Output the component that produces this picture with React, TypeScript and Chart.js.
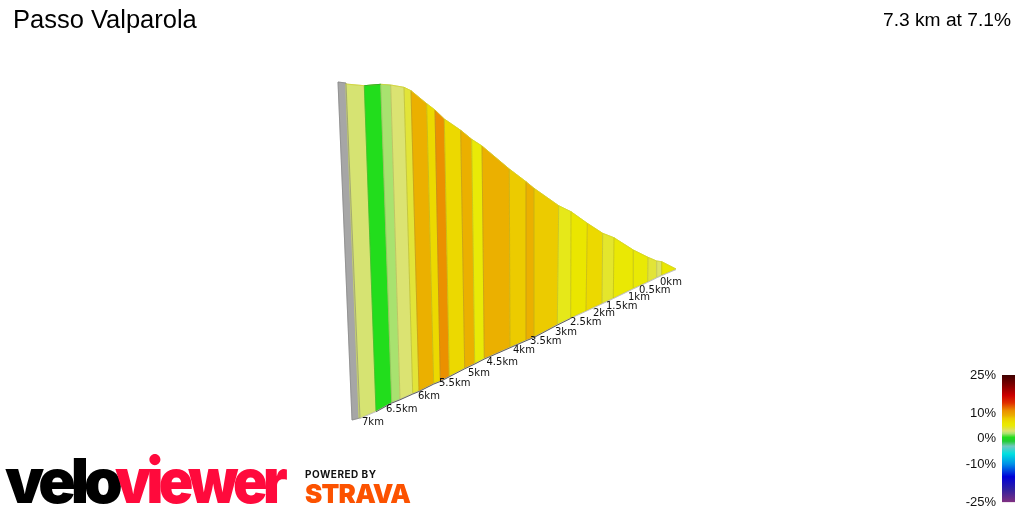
import React, { useEffect, useRef } from "react";
import Chart from "chart.js/auto";

// Segment boundaries of the projected climb, from the 7.3 km end to 0 km
const topX = [345.7, 364.3, 380.7, 390.7, 404, 411, 426.7, 435, 444.3, 460.7, 471.7, 482, 509.3, 526, 534, 558.7, 571, 587.3, 602.7, 614, 633.3, 648, 656.7, 661.7, 676];
const topY = [84, 85.7, 84.3, 85, 87.3, 90.7, 103.7, 110, 119, 130.3, 139.3, 146, 169, 181.7, 188.3, 205.7, 211.7, 223.3, 233.3, 237.7, 250, 257.3, 261, 261.7, 269];
const bottomX = [359, 376, 391.7, 400, 412.7, 419, 433.7, 440.3, 449.3, 464.7, 474.7, 484.3, 510, 526, 534, 557.3, 570.7, 586, 602, 613.3, 633.3, 647.7, 656.7, 661.7, 676];
const bottomY = [418.3, 411, 402.3, 399, 393.3, 390.7, 383.3, 380.7, 376, 368, 363.3, 358.3, 347, 340, 336.7, 324.3, 317.7, 310.7, 303.3, 298, 288.3, 281.7, 277.3, 275, 269];
// Gradient of each segment, in percent
const segmentGradient = [2.9, 0.5, 2, 3, 4.2, 9, 7, 11, 7, 9, 5, 9, 8, 9, 8, 4.7, 6, 7, 4.4, 5.5, 5.3, 4.2, 3.3, 5.8];

const wallX = [338, 346, 360, 352];
const wallY = [82, 83, 418, 420];

const kmLabels = ["0km", "0.5km", "1km", "1.5km", "2km", "2.5km", "3km", "3.5km", "4km", "4.5km", "5km", "5.5km", "6km", "6.5km", "7km"];
const kmLabelX = [660, 639, 628, 606, 593, 570, 555, 530, 513, 486.5, 468, 439, 418, 386, 362];
const kmLabelY = [282, 290, 297.5, 306, 313.5, 322.5, 332, 341, 350, 362, 373, 383.5, 396, 409, 422.5];

const legendTicks = [25, 10, 0, -10, -25];
const scaleGradient = [-25, -20, -15, -10, -6, -3, -1, 0.5, 2, 3, 4.2, 5, 6, 7, 8, 9, 11, 14, 17, 21, 25];
const scaleColour = ["#803080", "#3020a0", "#0000d8", "#0090e8", "#00e0e0", "#70c8c0", "#22cc33", "#22dd1c", "#a8e26f", "#dbe372", "#e2e438", "#e9ea07", "#eae600", "#ecd900", "#eccb00", "#ebb000", "#eb9000", "#e03000", "#cc0000", "#800000", "#3f0000"];

const title = "Passo Valparola";
const summary = "7.3 km at 7.1%";

function hexToRgb(h: string) {
  return [1, 3, 5].map((i) => parseInt(h.slice(i, i + 2), 16));
}
function colourFor(g: number) {
  for (let i = 1; i < scaleGradient.length; i++) {
    if (g <= scaleGradient[i]) {
      const t = (g - scaleGradient[i - 1]) / (scaleGradient[i] - scaleGradient[i - 1]);
      const a = hexToRgb(scaleColour[i - 1]);
      const b = hexToRgb(scaleColour[i]);
      const c = a.map((v, k) => Math.round(v + (b[k] - v) * t));
      return `rgb(${c[0]},${c[1]},${c[2]})`;
    }
  }
  return scaleColour[scaleColour.length - 1];
}

const polygonPlugin = {
  id: "polygons",
  beforeDatasetsDraw(chart: any) {
    const { ctx } = chart;
    const trace = (pts: any[]) => {
      ctx.beginPath();
      pts.forEach((p: any, k: number) => (k ? ctx.lineTo(p.x, p.y) : ctx.moveTo(p.x, p.y)));
      ctx.closePath();
    };
    chart.data.datasets.forEach((ds: any, i: number) => {
      if (!ds.polygon) return;
      const pts = chart.getDatasetMeta(i).data;
      ctx.save();
      trace(pts);
      ctx.fillStyle = ds.polygonFill;
      ctx.strokeStyle = ds.polygonFill;
      ctx.lineWidth = 0.8;
      ctx.fill();
      ctx.stroke();
      ctx.restore();
    });
    chart.data.datasets.forEach((ds: any, i: number) => {
      if (!ds.polygon) return;
      const pts = chart.getDatasetMeta(i).data;
      ctx.save();
      trace(pts);
      ctx.lineWidth = 1;
      ctx.strokeStyle = ds.polygonEdge;
      ctx.stroke();
      ctx.restore();
    });
  },
};

const textPlugin = {
  id: "texts",
  afterDatasetsDraw(chart: any) {
    const { ctx, scales } = chart;
    ctx.save();
    ctx.textBaseline = "middle";
    ctx.textAlign = "left";
    ctx.fillStyle = "#111";
    ctx.font = '10px "DejaVu Sans"';
    kmLabels.forEach((t, i) => {
      ctx.fillText(t, scales.x.getPixelForValue(kmLabelX[i]), scales.y.getPixelForValue(kmLabelY[i]));
    });
    ctx.textBaseline = "alphabetic";
    ctx.fillStyle = "#000";
    ctx.font = '25.5px "Liberation Sans"';
    ctx.fillText(title, 13, 28);
    ctx.textAlign = "right";
    ctx.font = '19.2px "Liberation Sans"';
    ctx.fillText(summary, 1011, 26);
    ctx.textAlign = "left";

    ctx.font = "900 62px Inter";
    ctx.letterSpacing = "-5px";
    ctx.fillStyle = "#000";
    ctx.fillText("velo", 5, 503);
    ctx.save();
    ctx.translate(115, 503);
    ctx.scale(0.92, 1);
    ctx.fillStyle = "#ff0a3c";
    ctx.fillText("viewer", 0, 0);
    ctx.restore();
    ctx.letterSpacing = "0.5px";
    ctx.font = "700 10px Inter";
    ctx.fillStyle = "#111";
    ctx.fillText("POWERED BY", 305, 478);
    ctx.letterSpacing = "-0.8px";
    ctx.font = "900 26px Inter";
    ctx.fillStyle = "#fc5200";
    ctx.fillText("STRAVA", 305, 503);
    ctx.restore();
  },
};

export default function App() {
  const mainRef = useRef<HTMLCanvasElement>(null);
  const legendRef = useRef<HTMLCanvasElement>(null);

  useEffect(() => {
    const strips = segmentGradient.map((g, i) => ({
      label: `segment ${i + 1}`,
      polygon: true,
      polygonFill: colourFor(g),
      polygonEdge: "rgba(130,130,70,0.16)",
      data: [
        { x: topX[i], y: topY[i] },
        { x: topX[i + 1], y: topY[i + 1] },
        { x: bottomX[i + 1], y: bottomY[i + 1] },
        { x: bottomX[i], y: bottomY[i] },
      ],
      showLine: false,
      pointRadius: 0,
    }));
    const main = new Chart(mainRef.current!, {
      type: "scatter",
      data: {
        datasets: [
          {
            label: "rim",
            data: topX.map((x, i) => ({ x, y: topY[i] })),
            showLine: true,
            borderColor: "rgba(216,216,40,0.8)",
            borderWidth: 0.8,
            pointRadius: 0,
            order: 2,
          },
          {
            label: "crest",
            data: topX.slice(1, 3).map((x, i) => ({ x, y: topY[i + 1] })),
            showLine: true,
            borderColor: "#2fae2a",
            borderWidth: 1,
            pointRadius: 0,
            order: 1,
          },
          {
            label: "wall",
            polygon: true,
            polygonFill: "#a6a6a6",
            polygonEdge: "rgba(120,120,120,0.5)",
            data: wallX.map((x, i) => ({ x, y: wallY[i] })),
            showLine: false,
            pointRadius: 0,
          },
          ...strips,
          {
            label: "road shadow",
            data: bottomX.slice(1, 17).map((x, i) => ({ x, y: bottomY[i + 1] + 0.8 })),
            showLine: true,
            borderColor: "rgba(50,50,50,0.75)",
            borderWidth: 0.9,
            pointRadius: 0,
          },
          {
            label: "road edge",
            data: bottomX.map((x, i) => ({ x, y: bottomY[i] + 0.6 })),
            showLine: true,
            borderColor: "#c0c0c0",
            borderWidth: 1,
            pointRadius: 0,
          },
        ] as any,
      },
      options: {
        animation: false,
        responsive: false,
        layout: { padding: 0 },
        plugins: { legend: { display: false }, tooltip: { enabled: false } },
        scales: {
          x: { type: "linear", min: 0, max: 1024, display: false },
          y: { type: "linear", min: 0, max: 512, reverse: true, display: false },
        },
      },
      plugins: [polygonPlugin, textPlugin],
    } as any);

    const legend = new Chart(legendRef.current!, {
      type: "bar",
      data: {
        labels: ["gradient"],
        datasets: [
          {
            data: [[-25, 25]],
            barPercentage: 1,
            categoryPercentage: 1,
            backgroundColor: (c: any) => {
              const a = c.chart.chartArea;
              if (!a) return "#888";
              const g = c.chart.ctx.createLinearGradient(0, a.bottom, 0, a.top);
              scaleGradient.forEach((v, i) => g.addColorStop((v + 25) / 50, scaleColour[i]));
              return g;
            },
          },
        ] as any,
      },
      options: {
        animation: false,
        responsive: false,
        layout: { padding: { top: 15, bottom: 6, right: 9, left: 0 } },
        plugins: { legend: { display: false }, tooltip: { enabled: false } },
        scales: {
          x: { display: false },
          y: {
            min: -25,
            max: 25,
            position: "left",
            afterBuildTicks: (s: any) => {
              s.ticks = legendTicks.map((value) => ({ value }));
            },
            afterFit: (s: any) => {
              s.width = 52;
            },
            grid: { display: false, drawTicks: false },
            border: { display: false },
            ticks: {
              autoSkip: false,
              padding: 6,
              color: "#111",
              font: { family: "Liberation Sans", size: 13 },
              callback: (v: any) => `${v}%`,
            },
          },
        },
      },
    } as any);

    return () => {
      main.destroy();
      legend.destroy();
    };
  }, []);

  return (
    <div style={{ position: "fixed", left: 0, top: 0, width: 1024, height: 512, background: "#fff", overflow: "hidden" }}>
      <canvas ref={mainRef} width={1024} height={512} style={{ position: "absolute", left: 0, top: 0 }} />
      <canvas ref={legendRef} width={74} height={156} style={{ position: "absolute", left: 950, top: 360 }} />
    </div>
  );
}
